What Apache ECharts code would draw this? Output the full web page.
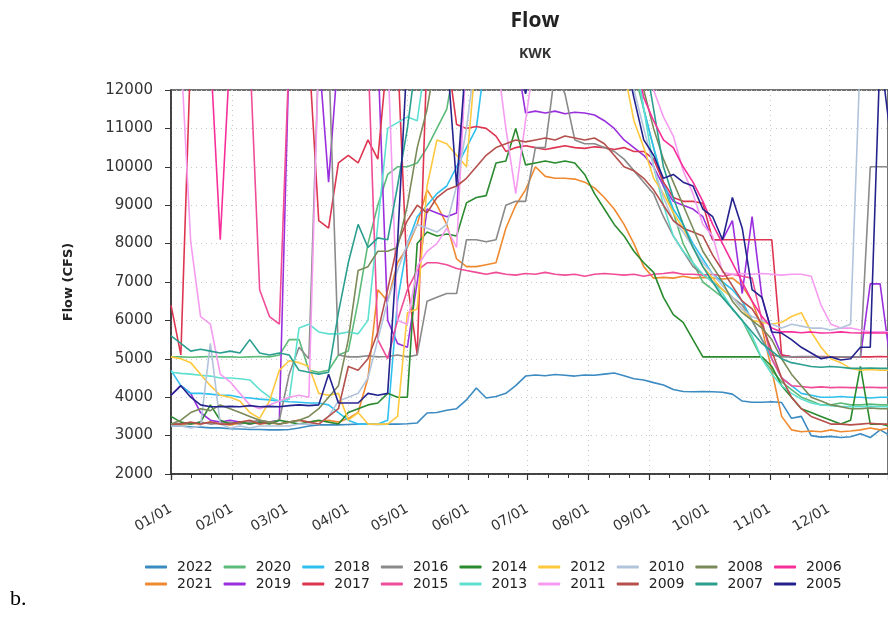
<!DOCTYPE html>
<html>
<head>
<meta charset="utf-8">
<script src="https://cdn.jsdelivr.net/npm/echarts@6/dist/echarts.min.js"></script>
<style>
  html, body { margin: 0; padding: 0; background: #fff; }
  #chart { width: 888px; height: 618px; }
</style>
</head>
<body>
<div id="chart"></div>
<script>
// day of year for each sample (Jan 1 = 0)
const days = [0,5,10,15,20,25,30,35,40,45,50,55,60,65,70,75,80,85,90,95,
  100,105,110,115,120,125,130,135,140,145,150,155,160,165,170,175,180,185,190,195,
  200,205,210,215,220,225,230,235,240,245,250,255,260,265,270,275,280,285,290,295,
  300,305,310,315,320,325,330,335,340,345,350,355,360,365]

const years = ['2022','2021','2020','2019','2018','2017','2016','2015','2014',
  '2013','2012','2011','2010','2009','2008','2007','2006','2005']

const legendRow1 = ['2022','2020','2018','2016','2014','2012','2010','2008','2006']
const legendRow2 = ['2021','2019','2017','2015','2013','2011','2009','2007','2005']

const flow2022 = [3250,3250,3230,3220,3200,3200,3180,3170,3160,3160,
  3150,3150,3160,3200,3250,3280,3280,3280,3290,3300,
  3300,3290,3300,3300,3310,3330,3590,3600,3660,3700,
  3930,4240,3980,4020,4100,4300,4550,4580,4560,4590,
  4570,4550,4580,4570,4600,4630,4560,4480,4450,4380,
  4320,4200,4150,4140,4150,4140,4130,4080,3900,3870,
  3870,3880,3860,3450,3500,3000,2960,2980,2950,2970,
  3050,2950,3150,3000]
const flow2021 = [3300,3280,3320,3300,3350,3300,3280,3320,3350,3300,
  3330,3300,3350,3400,3350,3380,3400,3350,3450,3600,
  4500,6800,6500,7500,7900,8500,9400,9000,8500,7600,
  7400,7400,7450,7500,8400,9000,9400,10000,9750,9700,
  9700,9680,9600,9450,9200,8900,8500,8000,7400,7100,
  7120,7100,7150,7100,7120,7100,7080,7100,6900,6500,
  5800,4700,3500,3150,3100,3120,3100,3150,3100,3120,
  3150,3200,3150,3200]
const flow2020 = [5050,5050,5040,5050,5060,5050,5050,5040,5050,5060,
  5050,5100,5500,5500,4700,4650,4700,5100,5200,6500,
  8000,9000,9800,10000,10000,10100,10500,11000,11500,13000,
  13000,13000,13000,13000,13000,13000,13000,13000,13000,13000,
  13000,13000,13000,13000,13000,13000,13000,12500,11500,10500,
  9500,8800,8000,7500,7000,6800,6600,6300,6000,5500,
  5000,4700,4400,4200,4000,3900,3800,3800,3850,3800,
  3800,3820,3800,3800]
const flow2019 = [4050,4300,4100,3600,3400,3350,3400,3350,3300,3350,
  3350,3400,13000,13000,13000,13000,9600,13000,13000,13000,
  13000,13000,6000,5400,5300,7000,8900,8800,8700,8800,
  13000,13000,13000,13000,13000,13000,11400,11450,11400,11450,
  11380,11420,11400,11350,11200,11000,10700,10500,10300,10000,
  9500,9100,9000,8900,8700,8100,8100,8600,6700,8700,
  6600,5700,5100,5050,5050,5060,5050,5040,5050,5050,
  5050,6950,6950,5000]
const flow2018 = [4700,4300,4100,4100,4080,4050,4050,4000,3980,3950,
  3930,3900,3880,3870,3850,3850,3800,3600,3400,3300,
  3300,3300,3400,6500,8000,8700,9000,9300,9500,10000,
  10500,11000,13000,13000,13000,13000,13000,13000,13000,13000,
  13000,13000,13000,13000,13000,13000,13000,13000,11500,10500,
  9600,8900,8500,8000,7600,7200,7000,6800,6500,6000,
  5500,5000,4500,4300,4100,4050,4000,4000,4020,4000,
  4000,3980,4000,4000]
const flow2017 = [6400,5100,13000,13000,13000,13000,13000,13000,13000,13000,
  13000,13000,13000,13000,13000,8600,8400,10100,10300,10100,
  10700,10200,13000,13000,7000,5100,13000,13000,13000,11100,
  11000,11050,11000,10800,10400,10500,10550,10500,10450,10500,
  10550,10500,10480,10520,10500,10450,10500,10400,10400,10200,
  9600,9200,9100,9100,9050,8100,8100,8100,8100,8100,
  8100,8100,5100,5050,5050,5050,5060,5050,5040,5050,
  5050,5050,5060,5050]
const flow2016 = [3300,3320,3300,3350,3300,3320,3350,3300,3350,3400,
  3350,3400,4600,5300,5000,13000,13000,5100,5050,5050,
  5080,5050,5060,5100,5050,5100,6500,6600,6700,6700,
  8100,8100,8050,8100,9000,9100,9100,10500,10500,12500,
  11900,10700,10600,10600,10500,10400,10200,9900,9600,9300,
  8700,8200,7800,7400,7200,7000,6800,6600,6400,6000,
  5500,5100,5050,5050,5060,5050,5050,5040,5050,5050,
  5050,10000,10000,10000]
const flow2015 = [13000,13000,13000,13000,13000,13000,13000,13000,13000,6800,
  6100,5900,13000,13000,13000,13000,13000,13000,13000,13000,
  13000,5500,5000,6000,6800,7300,7500,7500,7450,7350,
  7300,7250,7200,7250,7200,7180,7220,7200,7250,7200,
  7180,7200,7150,7200,7220,7200,7180,7200,7150,7200,
  7220,7250,7200,7200,7180,7200,7150,7200,7150,7100,
  6000,5000,4500,4300,4280,4250,4270,4250,4260,4250,
  4250,4260,4250,4250]
const flow2014 = [3500,3350,3300,3350,3800,3400,3300,3350,3300,3350,
  3300,3400,3350,3300,3350,3400,3350,3300,3600,3700,
  3800,3850,4100,4000,4000,8000,8300,8200,8250,8200,
  9060,9200,9250,10100,10150,11000,10050,10100,10150,10100,
  10150,10100,9800,9300,8900,8500,8200,7800,7500,7250,
  6600,6150,5950,5500,5050,5050,5050,5050,5050,5050,
  5050,4800,4300,4000,3700,3600,3500,3400,3300,3400,
  4800,3300,3300,3250]
const flow2013 = [4650,4620,4600,4570,4550,4500,4500,4480,4450,4200,
  4000,3900,3950,5800,5900,5700,5650,5650,5700,5650,
  6000,8500,11000,11150,11300,11200,13000,13000,13000,13000,
  13000,13000,13000,13000,13000,13000,13000,13000,13000,13000,
  13000,13000,13000,13000,13000,13000,13000,13000,11500,10000,
  9000,8200,7800,7500,7200,7000,6700,6300,6000,5600,
  5000,4600,4300,4100,3950,3850,3800,3780,3760,3750,
  3750,3760,3750,3750]
const flow2012 = [5050,5000,4900,4600,4300,4050,4000,3900,3600,3450,
  3900,4700,4950,4900,4800,4100,4050,4100,3400,3600,
  3300,3300,3300,3500,6200,6300,9500,10700,10600,10300,
  10000,13000,13000,13000,13000,13000,13000,13000,13000,13000,
  13000,13000,13000,13000,13000,13000,12500,11200,10500,9700,
  9300,8800,8400,7900,7400,7100,6800,6600,6300,6000,
  5950,5900,5950,6100,6200,5700,5300,5000,4900,4750,
  4700,4720,4700,4700]
const flow2011 = [13000,13000,8050,6100,5900,4600,4400,4100,3800,3700,
  3800,3900,4000,4050,4000,13000,13000,13000,13000,13000,
  13000,13000,13000,6000,5900,7400,7800,8000,8400,7900,
  13000,13000,13000,13000,11000,9300,11200,13000,13000,13000,
  13000,13000,13000,13000,13000,13000,13000,13000,13000,12000,
  11300,10800,9900,9300,8500,8200,7250,7200,7220,7200,
  7220,7200,7180,7200,7200,7150,6400,5900,5800,5800,
  5750,5700,5700,5700]
const flow2010 = [3250,3250,3200,3250,5400,3300,3200,3250,3200,3250,
  3250,3250,3250,3300,3300,3300,3500,3900,4000,4100,
  4500,5500,6500,7300,8000,8500,8400,8300,8500,9500,
  11000,13000,13000,13000,13000,13000,13000,13000,13000,13000,
  13000,13000,13000,13000,13000,13000,13000,12000,11000,10000,
  9200,8600,8300,7900,7500,7200,6900,6600,6300,6100,
  6000,5900,5800,5900,5850,5800,5800,5750,5800,5900,
  13000,13000,13000,13000]
const flow2009 = [3300,3300,3350,3300,3350,3300,3300,3350,3400,3300,
  3350,3300,3350,3400,3350,3300,3500,3700,4800,4700,
  5000,5700,6800,8000,8600,9000,8800,9200,9400,9500,
  9700,10000,10300,10500,10600,10700,10650,10700,10750,10700,
  10800,10750,10700,10750,10600,10300,10000,9900,9700,9400,
  9000,8600,8400,8300,8200,7700,7300,6900,6500,6300,
  5900,5200,4500,4000,3700,3500,3400,3300,3300,3280,
  3300,3320,3300,3300]
const flow2008 = [3300,3400,3600,3700,3650,3800,3700,3600,3500,3400,
  3350,3300,3350,3400,3500,3700,4000,4300,5500,7300,
  7400,7800,7800,7900,9000,10500,11500,13000,13000,13000,
  13000,13000,13000,13000,13000,13000,13000,13000,13000,13000,
  13000,13000,13000,13000,13000,13000,13000,13000,12000,11000,
  10200,9600,9000,8400,7800,7400,7000,6500,6200,6000,
  5800,5500,5000,4600,4300,4000,3900,3800,3750,3700,
  3700,3720,3700,3700]
const flow2007 = [5600,5400,5200,5250,5200,5150,5200,5150,5500,5150,
  5100,5150,5100,4700,4650,4600,4650,6200,7500,8500,
  7900,8150,8100,9500,11000,13000,13000,13000,13000,13000,
  13000,13000,13000,13000,13000,13000,13000,13000,13000,13000,
  13000,13000,13000,13000,13000,13000,13000,13000,13000,11500,
  10000,9200,8500,7900,7400,7000,6600,6300,6000,5700,
  5400,5200,5000,4900,4850,4800,4780,4800,4780,4750,
  4750,4760,4750,4750]
const flow2006 = [13000,13000,13000,13000,13000,8100,13000,13000,13000,13000,
  13000,13000,13000,13000,13000,13000,13000,13000,13000,13000,
  13000,13000,13000,13000,13000,13000,13000,13000,13000,13000,
  13000,13000,13000,13000,13000,13000,13000,13000,13000,13000,
  13000,13000,13000,13000,13000,13000,13000,13000,11800,11200,
  10700,10500,10000,9600,9100,8500,8000,7500,7000,6500,
  6100,5800,5700,5700,5680,5700,5670,5680,5700,5680,
  5670,5680,5670,5670]
const flow2005 = [4050,4300,4000,3800,3750,3750,3760,3750,3780,3750,
  3760,3750,3780,3800,3780,3800,4600,3850,3850,3850,
  4100,4050,4100,8000,13000,13000,13000,13000,13000,9500,
  13000,13000,13000,13000,13000,13000,11900,13000,13000,13000,
  13000,13000,13000,13000,13000,13000,13000,11800,10700,10300,
  9700,9800,9600,9500,8900,8700,8100,9200,8400,6800,
  6600,5700,5670,5500,5300,5150,5000,5050,4970,5000,
  5300,5300,13000,10900]

const flows = [flow2022, flow2021, flow2020, flow2019, flow2018, flow2017, flow2016,
  flow2015, flow2014, flow2013, flow2012, flow2011, flow2010, flow2009, flow2008,
  flow2007, flow2006, flow2005]

const colors = ['#3b8bc2','#f08a30','#5dbb7a','#9a2fdd','#2fc0f0','#dd3550','#8a8a8a',
  '#f04c97','#2a8a2e','#5ee0d0','#ffc93f','#f59cf0','#b1c4dc','#b5504d','#7a8a58',
  '#2b9e90','#f72f9a','#24238e']

const DAY = 86400000
const start = Date.UTC(2021, 0, 1)
const font = 'DejaVu Sans'

const chart = echarts.init(document.getElementById('chart'))

const legendStyle = {
  left: 140,
  orient: 'horizontal',
  icon: 'roundRect',
  itemWidth: 22,
  itemHeight: 3,
  itemGap: 11,
  textStyle: { fontFamily: font, fontSize: 14, color: '#222', padding: [0, 0, 0, 5] }
}

const option = {
  animation: false,
  backgroundColor: '#fff',
  useUTC: true,
  color: colors,
  title: [{
    text: 'Flow',
    left: 530,
    top: 6,
    textAlign: 'center',
    textStyle: { fontFamily: 'Open Sans', fontSize: 21, fontWeight: 'bold', color: '#222' }
  }, {
    text: 'KWK',
    left: 530,
    top: 42,
    textAlign: 'center',
    textStyle: { fontFamily: 'Open Sans', fontSize: 14, fontWeight: 'bold', color: '#333' }
  }],
  legend: [
    Object.assign({ data: legendRow1, top: 555 }, legendStyle),
    Object.assign({ data: legendRow2, top: 572 }, legendStyle)
  ],
  grid: {
    left: 171,
    right: -2,
    top: 90,
    bottom: 144,
    show: true,
    borderColor: '#444',
    borderWidth: 1.5
  },
  xAxis: {
    type: 'time',
    min: start,
    max: Date.UTC(2021, 11, 31),
    splitNumber: 12,
    minInterval: 28 * DAY,
    maxInterval: 31 * DAY,
    axisLine: { lineStyle: { color: '#333', width: 1.5 } },
    axisTick: { length: 6, lineStyle: { color: '#333', width: 1.2 } },
    minorTick: { show: true, splitNumber: 3, length: 4, lineStyle: { color: '#333' } },
    axisLabel: {
      rotate: 30,
      margin: 34,
      showMaxLabel: false,
      fontFamily: font,
      fontSize: 14,
      color: '#333',
      formatter: function (v) {
        const d = new Date(v)
        const mm = String(d.getUTCMonth() + 1).padStart(2, '0')
        const dd = String(d.getUTCDate()).padStart(2, '0')
        return mm + '/' + dd
      }
    },
    splitLine: { show: true, lineStyle: { type: [1, 4], color: '#c8c8c8' } }
  },
  yAxis: {
    type: 'value',
    min: 2000,
    max: 12000,
    interval: 1000,
    name: 'Flow (CFS)',
    nameLocation: 'middle',
    nameGap: 96,
    nameTextStyle: { fontFamily: font, fontSize: 13, fontWeight: 'bold', color: '#222' },
    axisLine: { show: true, lineStyle: { color: '#333', width: 1.5 } },
    axisTick: { show: true, length: 6, lineStyle: { color: '#333' } },
    axisLabel: {
      fontFamily: font,
      fontSize: 15,
      color: '#333',
      margin: 18,
      formatter: function (v) { return String(v) }
    },
    splitLine: { lineStyle: { type: [1, 4], color: '#c8c8c8' } }
  },
  graphic: [{
    type: 'text',
    left: 10,
    top: 588,
    style: { text: 'b.', font: '22px "Liberation Serif"', fill: '#000' }
  }],
  series: years.map(function (y, i) {
    return {
      name: y,
      type: 'line',
      showSymbol: false,
      symbol: 'none',
      lineStyle: { width: 1.6 },
      data: days.map(function (d, j) { return [start + d * DAY, flows[i][j]] })
    }
  })
}

chart.setOption(option)
</script>
</body>
</html>
